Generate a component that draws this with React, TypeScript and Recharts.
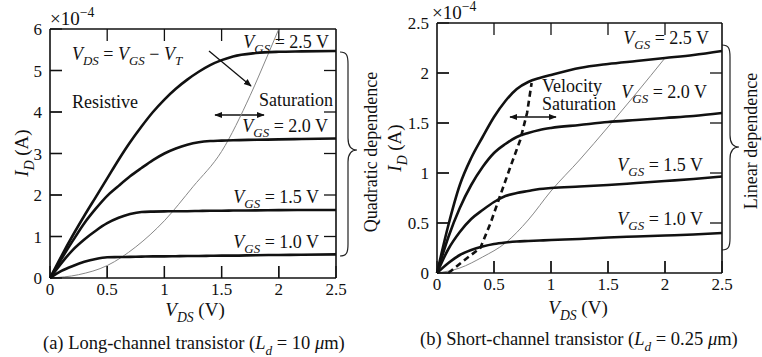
import React from 'react'
import { LineChart, Line, XAxis, YAxis, ReferenceLine } from 'recharts'

const FONT = '"Liberation Serif", "DejaVu Serif", serif'
const INK = '#111'

// (a) long-channel transistor, ID in units of 1e-4 A
const vdsLong = [0, 0.1, 0.2, 0.3, 0.4, 0.5, 0.6, 0.7, 0.8, 0.9, 1.0, 1.1, 1.2, 1.3, 1.4, 1.5, 1.6, 1.8, 2.0, 2.2, 2.5]
const longVgs25 = [0, 0.53, 1.03, 1.5, 1.95, 2.4, 2.85, 3.27, 3.65, 4.0, 4.3, 4.56, 4.78, 4.97, 5.13, 5.25, 5.34, 5.42, 5.45, 5.46, 5.47]
const longVgs20 = [0, 0.46, 0.9, 1.32, 1.67, 1.98, 2.22, 2.45, 2.65, 2.84, 3.0, 3.12, 3.21, 3.27, 3.3, 3.31, 3.32, 3.33, 3.34, 3.35, 3.36]
const longVgs15 = [0, 0.36, 0.68, 0.93, 1.14, 1.32, 1.45, 1.54, 1.59, 1.6, 1.605, 1.61, 1.61, 1.615, 1.62, 1.62, 1.625, 1.63, 1.635, 1.64, 1.64]
const longVgs10 = [0, 0.17, 0.29, 0.39, 0.46, 0.5, 0.505, 0.51, 0.515, 0.52, 0.52, 0.525, 0.53, 0.53, 0.535, 0.54, 0.54, 0.55, 0.555, 0.56, 0.57]
// VDS = VGS - VT boundary
const longSatV = [0, 0.25, 0.5, 0.75, 1.0, 1.25, 1.5, 1.75, 1.9, 2.0]
const longSatI = [0, 0.08, 0.3, 0.75, 1.38, 2.2, 3.05, 4.4, 5.35, 6.0]

// (b) short-channel transistor
const vdsShort = [0, 0.1, 0.2, 0.3, 0.4, 0.5, 0.6, 0.7, 0.8, 0.9, 1.0, 1.25, 1.5, 1.75, 2.0, 2.25, 2.5]
const shortVgs25 = [0, 0.48, 0.88, 1.15, 1.36, 1.56, 1.72, 1.84, 1.91, 1.95, 1.98, 2.05, 2.09, 2.12, 2.15, 2.18, 2.22]
const shortVgs20 = [0, 0.36, 0.65, 0.88, 1.06, 1.2, 1.29, 1.36, 1.4, 1.43, 1.45, 1.48, 1.51, 1.53, 1.55, 1.57, 1.6]
const shortVgs15 = [0, 0.24, 0.41, 0.54, 0.63, 0.71, 0.77, 0.8, 0.82, 0.84, 0.85, 0.865, 0.88, 0.9, 0.92, 0.94, 0.965]
const shortVgs10 = [0, 0.1, 0.18, 0.23, 0.265, 0.29, 0.305, 0.315, 0.32, 0.325, 0.33, 0.34, 0.355, 0.365, 0.375, 0.385, 0.4]
const shortSatV = [0, 0.2, 0.4, 0.6, 0.8, 1.0, 1.25, 1.5, 1.75, 2.0]
const shortSatI = [0, 0.05, 0.16, 0.3, 0.53, 0.82, 1.13, 1.46, 1.8, 2.15]
// velocity saturation boundary (dashed)
const velSatV = [0.1, 0.23, 0.38, 0.47, 0.55, 0.64, 0.73, 0.79, 0.83]
const velSatI = [0, 0.12, 0.25, 0.5, 0.76, 1.05, 1.33, 1.6, 1.9]

const X_MAX = 2.5
const xTicks = [0, 0.5, 1, 1.5, 2, 2.5]
const longYTicks = [0, 1, 2, 3, 4, 5, 6]
const shortYTicks = [0, 0.5, 1, 1.5, 2, 2.5]

const pts = (xs: number[], ys: number[]) => xs.map((v, k) => ({ v, i: ys[k] }))

type Curve = { data: { v: number; i: number }[]; w: number; color: string; dash?: string; type: 'monotone' | 'linear' }

const H = 357
const TICK = 12 // inward tick length, px
const axisLine = { stroke: INK, strokeWidth: 1.6 }
const tickLine = { stroke: INK, strokeWidth: 1.3 }
const tickFont = { fontSize: 17, fontFamily: FONT, fill: INK }
const blank = () => ''

function Panel({ left, width, margin, yMax, yTicks, curves }: {
  left: number; width: number; margin: { top: number; right: number; bottom: number; left: number }
  yMax: number; yTicks: number[]; curves: Curve[]
}) {
  // tick length expressed in data units so the marks go through the chart's own scales
  const plotW = width - margin.left - margin.right - 2
  const plotH = H - margin.top - margin.bottom - 2
  const dx = (TICK * X_MAX) / plotW
  const dy = (TICK * yMax) / plotH
  const innerX = xTicks.filter((t) => t > 0 && t < X_MAX)
  const innerY = yTicks.filter((t) => t > 0 && t < yMax)
  const mark = (key: string, seg: { x: number; y: number }[]) => (
    <ReferenceLine key={key} xAxisId="b" yAxisId="l" segment={seg} stroke={INK} strokeWidth={1.3} ifOverflow="visible" />
  )
  return (
    <div style={{ position: 'absolute', left, top: 0 }}>
      <LineChart width={width} height={H} margin={margin}>
        <XAxis xAxisId="b" dataKey="v" type="number" domain={[0, X_MAX]} ticks={xTicks} interval={0}
          height={1} tickSize={-TICK} tickMargin={TICK + 5} tickLine={tickLine} axisLine={axisLine}
          tick={tickFont} />
        <XAxis xAxisId="t" orientation="top" dataKey="v" type="number" domain={[0, X_MAX]} ticks={xTicks} interval={0}
          height={1} tickSize={-TICK} tickLine={tickLine} axisLine={axisLine}
          tick={tickFont} tickFormatter={blank} />
        <YAxis yAxisId="l" type="number" domain={[0, yMax]} ticks={yTicks} interval={0}
          width={1} tickSize={-TICK} tickMargin={TICK + 8} tickLine={tickLine} axisLine={axisLine}
          tick={tickFont} />
        <YAxis yAxisId="r" orientation="right" type="number" domain={[0, yMax]} ticks={yTicks} interval={0}
          width={1} tickSize={-TICK} tickLine={tickLine} axisLine={axisLine}
          tick={tickFont} tickFormatter={blank} />
        {innerX.map((t) => mark(`b${t}`, [{ x: t, y: 0 }, { x: t, y: dy }]))}
        {innerX.map((t) => mark(`t${t}`, [{ x: t, y: yMax }, { x: t, y: yMax - dy }]))}
        {innerY.map((t) => mark(`l${t}`, [{ x: 0, y: t }, { x: dx, y: t }]))}
        {innerY.map((t) => mark(`r${t}`, [{ x: X_MAX, y: t }, { x: X_MAX - dx, y: t }]))}
        {curves.map((c, k) => (
          <Line key={k} xAxisId="b" yAxisId="l" data={c.data} dataKey="i" type={c.type}
            stroke={c.color} strokeWidth={c.w} strokeDasharray={c.dash} dot={false}
            activeDot={false} isAnimationActive={false} />
        ))}
      </LineChart>
    </div>
  )
}

type Part = { t: string; it?: boolean; sub?: boolean; sup?: boolean }

function Rich({ x, y, parts, size = 18, anchor = 'start', rot = false }: {
  x: number; y: number; parts: Part[]; size?: number; anchor?: string; rot?: boolean
}) {
  let shift = 0
  const spans = parts.map((p, k) => {
    const target = p.sub ? size * 0.3 : p.sup ? -size * 0.42 : 0
    const d = target - shift
    shift = target
    return (
      <tspan key={k} dy={d || undefined} fontStyle={p.it ? 'italic' : 'normal'}
        fontSize={p.sub || p.sup ? size * 0.72 : size}>{p.t}</tspan>
    )
  })
  return (
    <text x={x} y={y} fontSize={size} textAnchor={anchor as any} fill={INK}
      style={{ whiteSpace: 'pre', fontFamily: FONT }} transform={rot ? `rotate(-90 ${x} ${y})` : undefined}>
      {spans}
    </text>
  )
}

const vgs = (v: string): Part[] => [{ t: 'V', it: true }, { t: 'GS', it: true, sub: true }, { t: ` = ${v} V` }]
const idLabel: Part[] = [{ t: 'I', it: true }, { t: 'D', it: true, sub: true }, { t: ' (A)' }]
const vdsLabel: Part[] = [{ t: 'V', it: true }, { t: 'DS', it: true, sub: true }, { t: ' (V)' }]
const exp4: Part[] = [{ t: '×10' }, { t: '−4', sup: true }]

function Overlay() {
  return (
    <svg width={762} height={H} style={{ position: 'absolute', left: 0, top: 0, pointerEvents: 'none' }}>
      <defs>
        <marker id="ah" viewBox="0 0 10 10" refX="9" refY="5" markerWidth="6" markerHeight="6" orient="auto-start-reverse">
          <path d="M0,1 L10,5 L0,9 z" fill={INK} />
        </marker>
      </defs>

      {/* panel (a) */}
      <Rich x={50} y={25} parts={exp4} size={19} />
      <Rich x={28} y={153} parts={idLabel} size={19} anchor="middle" rot />
      <Rich x={195} y={316} parts={vdsLabel} size={19} anchor="middle" />
      <Rich x={43} y={349} size={18.5} parts={[{ t: '(a) Long-channel transistor (' }, { t: 'L', it: true }, { t: 'd', it: true, sub: true }, { t: ' = 10 ' }, { t: 'μ', it: true }, { t: 'm)' }]} />
      <Rich x={72} y={60} parts={[{ t: 'V', it: true }, { t: 'DS', it: true, sub: true }, { t: ' = ' }, { t: 'V', it: true }, { t: 'GS', it: true, sub: true }, { t: ' − ' }, { t: 'V', it: true }, { t: 'T', it: true, sub: true }]} />
      <Rich x={72} y={108} parts={[{ t: 'Resistive' }]} />
      <Rich x={333} y={106} parts={[{ t: 'Saturation' }]} anchor="end" />
      <Rich x={329} y={48} parts={vgs('2.5')} anchor="end" />
      <Rich x={328} y={132} parts={vgs('2.0')} anchor="end" />
      <Rich x={319} y={203} parts={vgs('1.5')} anchor="end" />
      <Rich x={319} y={248} parts={vgs('1.0')} anchor="end" />
      <line x1={209} y1={51} x2={251} y2={86} stroke={INK} strokeWidth={1.3} markerEnd="url(#ah)" />
      <line x1={215} y1={115} x2={264} y2={115} stroke={INK} strokeWidth={1.3} markerStart="url(#ah)" markerEnd="url(#ah)" />
      <path d="M340,52 C347,52 348,56 348,64 L348,138 C348,146 351,150 357,150 C351,150 348,154 348,162 L348,244 C348,252 347,256 340,256"
        fill="none" stroke="#222" strokeWidth={1.2} />
      <Rich x={377} y={152} parts={[{ t: 'Quadratic dependence' }]} anchor="middle" rot />

      {/* panel (b) */}
      <Rich x={432} y={19} parts={exp4} size={19} />
      <Rich x={401} y={148} parts={idLabel} size={19} anchor="middle" rot />
      <Rich x={578} y={314} parts={vdsLabel} size={19} anchor="middle" />
      <Rich x={420} y={345} size={18.5} parts={[{ t: '(b) Short-channel transistor (' }, { t: 'L', it: true }, { t: 'd', it: true, sub: true }, { t: ' = 0.25 ' }, { t: 'μ', it: true }, { t: 'm)' }]} />
      <Rich x={542} y={92} parts={[{ t: 'Velocity' }]} />
      <Rich x={542} y={110} parts={[{ t: 'Saturation' }]} />
      <Rich x={709} y={44} parts={vgs('2.5')} anchor="end" />
      <Rich x={707} y={98} parts={vgs('2.0')} anchor="end" />
      <Rich x={703} y={171} parts={vgs('1.5')} anchor="end" />
      <Rich x={703} y={225} parts={vgs('1.0')} anchor="end" />
      <line x1={510} y1={117} x2={556} y2={117} stroke={INK} strokeWidth={1.3} markerStart="url(#ah)" markerEnd="url(#ah)" />
      <path d="M722,45 C729,45 730,49 730,57 L730,135 C730,143 733,147 739,147 C733,147 730,151 730,159 L730,238 C730,246 729,250 722,250"
        fill="none" stroke="#222" strokeWidth={1.2} />
      <Rich x={757} y={141} parts={[{ t: 'Linear dependence' }]} anchor="middle" rot />
    </svg>
  )
}

const longCurves: Curve[] = [
  { data: pts(longSatV, longSatI), w: 1, color: '#888', type: 'monotone' },
  { data: pts(vdsLong, longVgs25), w: 2.6, color: INK, type: 'monotone' },
  { data: pts(vdsLong, longVgs20), w: 2.6, color: INK, type: 'monotone' },
  { data: pts(vdsLong, longVgs15), w: 2.6, color: INK, type: 'monotone' },
  { data: pts(vdsLong, longVgs10), w: 2.6, color: INK, type: 'monotone' },
]

const shortCurves: Curve[] = [
  { data: pts(shortSatV, shortSatI), w: 1, color: '#888', type: 'monotone' },
  { data: pts(vdsShort, shortVgs25), w: 2.6, color: INK, type: 'monotone' },
  { data: pts(vdsShort, shortVgs20), w: 2.6, color: INK, type: 'monotone' },
  { data: pts(vdsShort, shortVgs15), w: 2.6, color: INK, type: 'monotone' },
  { data: pts(vdsShort, shortVgs10), w: 2.6, color: INK, type: 'monotone' },
  { data: pts(velSatV, velSatI), w: 2.6, color: INK, dash: '6 4', type: 'linear' },
]

export default function App() {
  return (
    <div style={{ position: 'absolute', left: 0, top: 0, width: 762, height: H, background: '#fff' }}>
      <Overlay />
      <Panel left={0} width={380} margin={{ top: 28, right: 43, bottom: 78, left: 49 }}
        yMax={6} yTicks={longYTicks} curves={longCurves} />
      <Panel left={380} width={382} margin={{ top: 22, right: 39, bottom: 83, left: 56 }}
        yMax={2.5} yTicks={shortYTicks} curves={shortCurves} />
    </div>
  )
}
